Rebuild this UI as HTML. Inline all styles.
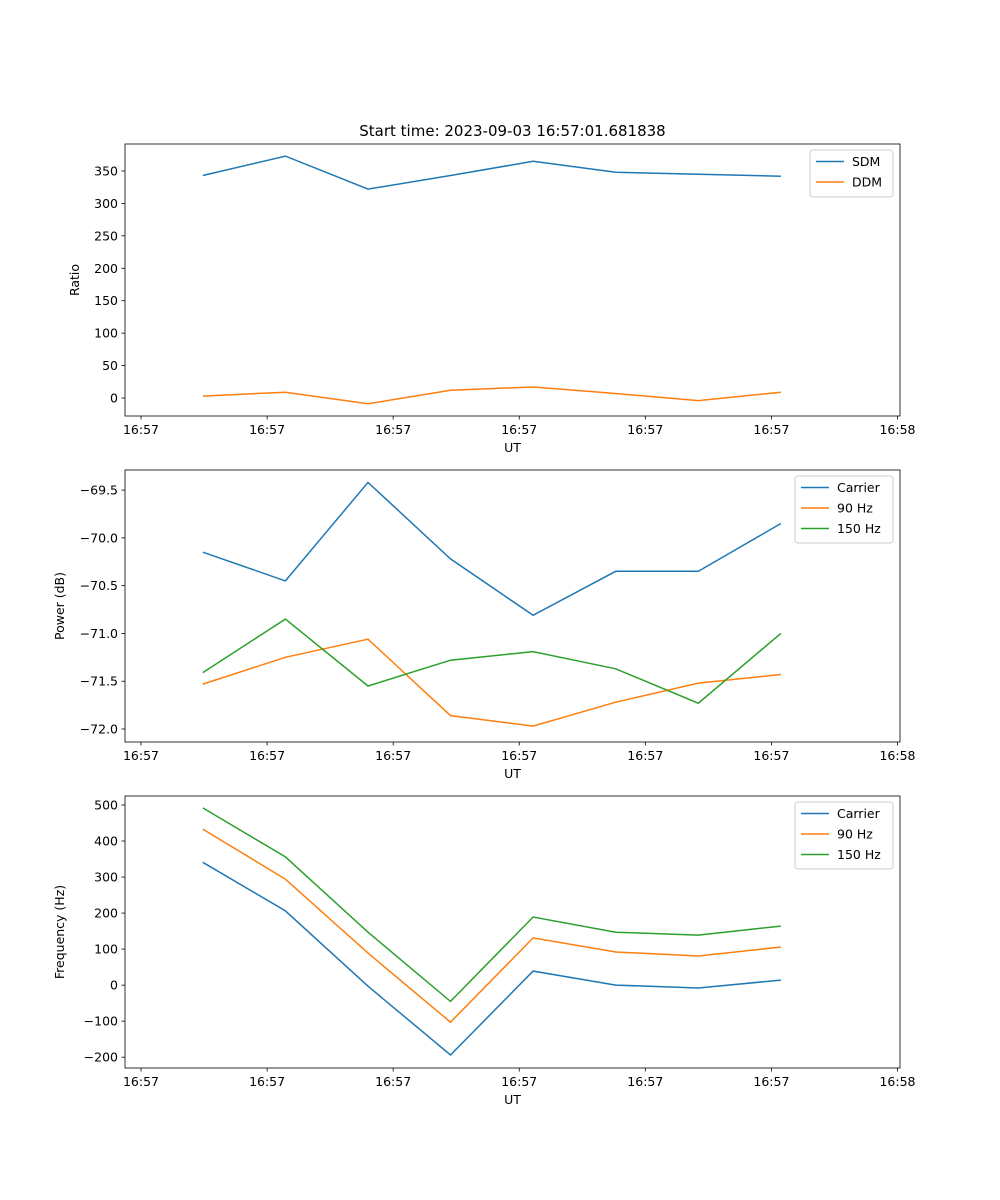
<!DOCTYPE html>
<html><head><meta charset="utf-8"><style>
body{margin:0;background:#fff}
svg{display:block;font-family:"DejaVu Sans","Liberation Sans",sans-serif}
</style></head><body>
<svg id="fig" width="1000" height="1200"></svg>
<script>
const xTickLabels=["16:57","16:57","16:57","16:57","16:57","16:57","16:58"];
const xVals=[0.49,1.145,1.80,2.455,3.11,3.765,4.42,5.075];
const sdm=[343,373,322,343,365,348,345,342];
const ddm=[3,9,-9,12,17,7,-4,9];
const ratioTicks=[0,50,100,150,200,250,300,350];
const pCarrier=[-70.15,-70.45,-69.42,-70.22,-70.81,-70.35,-70.35,-69.85];
const p90=[-71.53,-71.25,-71.06,-71.86,-71.97,-71.72,-71.52,-71.43];
const p150=[-71.41,-70.85,-71.55,-71.28,-71.19,-71.37,-71.73,-71.0];
const powerTicks=[-72.0,-71.5,-71.0,-70.5,-70.0,-69.5];
const fCarrier=[341,206,-3,-194,39,0,-8,14];
const f90=[433,294,89,-103,131,92,81,106];
const f150=[492,356,147,-45,189,147,139,164];
const freqTicks=[-200,-100,0,100,200,300,400,500];
const C=["#1f77b4","#ff7f0e","#2ca02c"];
const NS="http://www.w3.org/2000/svg";
const svg=document.getElementById('fig');
function mk(t,a,p){const e=document.createElementNS(NS,t);for(const k in a)e.setAttribute(k,a[k]);(p||svg).appendChild(e);return e;}
function panel(name,top,yMin,yMax,yTicks,yFmt,ylabel,series,labels,legW,title){
  const L=125,R=900,T=top,B=top+272;
  const g=mk('g',{});
  
  
  const sx=v=>L+(v+0.127)/6.147*(R-L);
  const sy=v=>B-(v-yMin)/(yMax-yMin)*(B-T);
  series.forEach((s,i)=>{
    const pts=s.map((v,j)=>sx(xVals[j]).toFixed(1)+','+sy(v).toFixed(1)).join(' ');
    const pl=mk('polyline',{points:pts,fill:'none',stroke:C[i],'stroke-width':1.5},g);
    
    
  });
  const fr=mk('rect',{x:L,y:T,width:R-L,height:B-T,fill:'none',stroke:'#000','stroke-width':0.8},g);
  
  
  xTickLabels.forEach((t,i)=>{
    const x=sx(i);
    mk('line',{x1:x,x2:x,y1:B,y2:B+3.5,stroke:'#000','stroke-width':0.8},g);
    const tx=mk('text',{x:x,y:B+18,'font-size':12.5,'text-anchor':'middle'},g);tx.textContent=t;
    
    
  });
  yTicks.forEach(v=>{
    const y=sy(v);
    mk('line',{x1:L-3.5,x2:L,y1:y,y2:y,stroke:'#000','stroke-width':0.8},g);
    const tx=mk('text',{x:L-7,y:y+4.5,'font-size':12.5,'text-anchor':'end'},g);tx.textContent=yFmt(v);
    
    
  });
  const xl=mk('text',{x:(L+R)/2,y:B+36,'font-size':12.5,'text-anchor':'middle'},g);xl.textContent='UT';
  
  
  const yl=mk('text',{x:0,y:0,'font-size':12.5,'text-anchor':'middle',transform:`translate(${name==='ratio-panel'?79:64},${(T+B)/2}) rotate(-90)`},g);yl.textContent=ylabel;
  
  
  if(title){const tt=mk('text',{x:(L+R)/2,y:T-8,'font-size':15,'text-anchor':'middle'},g);tt.textContent=title;
    
    }
  const lx=R-7-legW,ly=T+6,lh=7+labels.length*20;
  const lg=mk('g',{},g);
  
  
  mk('rect',{x:lx,y:ly,width:legW,height:lh,rx:3,fill:'#fff','fill-opacity':0.8,stroke:'#ccc'},lg);
  labels.forEach((lb,i)=>{
    const y=ly+11.5+i*20.5;
    mk('line',{x1:lx+6,x2:lx+34,y1:y,y2:y,stroke:C[i],'stroke-width':1.5},lg);
    const t=mk('text',{x:lx+42,y:y+4.5,'font-size':12.5},lg);t.textContent=lb;
    
    
  });
}
panel('ratio-panel',144,-27.75,391.6,ratioTicks,v=>String(v),'Ratio',[sdm,ddm],['SDM','DDM'],83,'Start time: 2023-09-03 16:57:01.681838');
panel('power-panel',470,-72.136,-69.29,powerTicks,v=>(v<0?'\u2212':'')+Math.abs(v).toFixed(1),'Power (dB)',[pCarrier,p90,p150],['Carrier','90 Hz','150 Hz'],98,null);
panel('frequency-panel',796,-230,525,freqTicks,v=>(v<0?'\u2212':'')+Math.abs(v),'Frequency (Hz)',[fCarrier,f90,f150],['Carrier','90 Hz','150 Hz'],98,null);
</script>
</body></html>
